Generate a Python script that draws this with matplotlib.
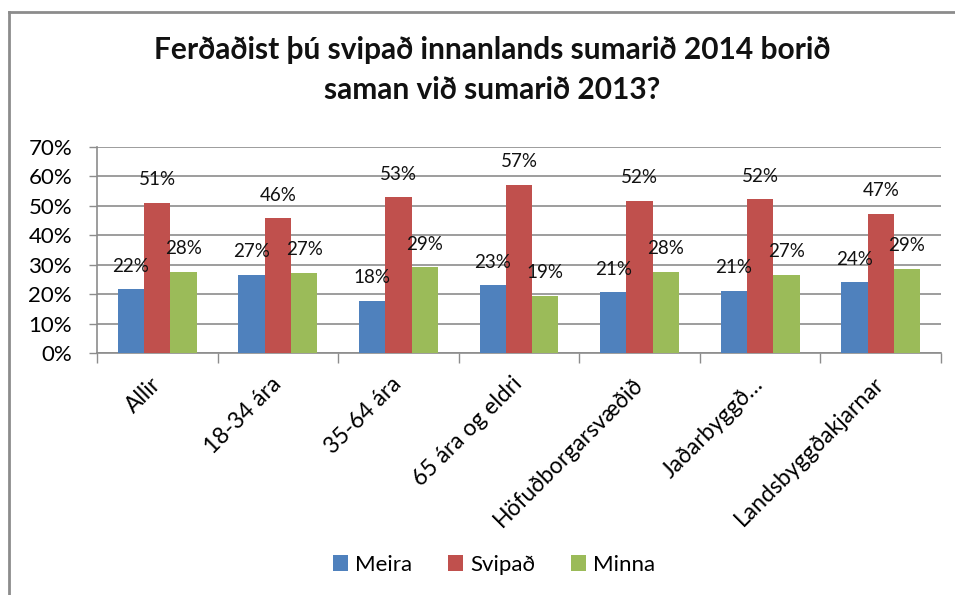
import numpy as np
import matplotlib.pyplot as plt
from matplotlib.lines import Line2D

plt.rcParams['font.family'] = ['Lato', 'DejaVu Sans']

categories = ['Allir', '18-34 ára', '35-64 ára', '65 ára og eldri',
              'Höfuðborgarsvæðið', 'Jaðarbyggð…', 'Landsbyggðakjarnar']
series = ['Meira', 'Svipað', 'Minna']
meira = [21.6, 26.6, 17.8, 23.1, 20.6, 21.1, 24.0]
svipad = [51.0, 45.8, 53.0, 57.1, 51.8, 52.2, 47.4]
minna = [27.6, 27.3, 29.1, 19.4, 27.6, 26.6, 28.7]
colors = ['#4F81BD', '#C0504D', '#9BBB59']
yticks = [0, 10, 20, 30, 40, 50, 60, 70]

fig = plt.figure(figsize=(9.55, 5.95), dpi=100)
ax = fig.add_axes([97 / 955, 1 - 353 / 595, (941 - 97) / 955, (353 - 147) / 595])

x = np.arange(len(categories))
w = 0.218
for i, (vals, c) in enumerate(zip([meira, svipad, minna], colors)):
    pos = x + (i - 1) * w
    ax.bar(pos, vals, w, color=c, label=series[i], zorder=3)
    for px, v in zip(pos, vals):
        ax.annotate('%d%%' % round(v), (px, v), xytext=(0, 23), textcoords='offset pixels',
                    ha='center', va='center', fontsize=13.5, color='#111111', zorder=4)

ax.set_xlim(-0.5, len(categories) - 0.5)
ax.set_ylim(0, 70)
ax.set_yticks(yticks)
ax.set_yticklabels(['%d%%' % t for t in yticks], fontsize=16)
ax.yaxis.grid(True, color='#8c8c8c', linewidth=1.2, zorder=0)
ax.tick_params(axis='y', length=6, width=1, color='#8c8c8c', pad=12)

ax.set_xticks(x)
ax.set_xticklabels(categories, rotation=45, ha='right', va='center',
                   rotation_mode='anchor', fontsize=16.5)
ax.tick_params(axis='x', length=0, pad=20)
ax.set_xticks(np.arange(len(categories) + 1) - 0.5, minor=True)
ax.tick_params(axis='x', which='minor', length=7, width=1, color='#8c8c8c')

for s in ['top', 'right']:
    ax.spines[s].set_visible(False)
for s in ['left', 'bottom']:
    ax.spines[s].set_color('#8c8c8c')
    ax.spines[s].set_linewidth(1.2)

fig.text(492 / 955, 1 - 50 / 595, 'Ferðaðist þú svipað innanlands sumarið 2014 borið',
         ha='center', va='center', fontsize=21.5, fontweight='bold', color='#111111')
fig.text(492 / 955, 1 - 90 / 595, 'saman við sumarið 2013?',
         ha='center', va='center', fontsize=21.5, fontweight='bold', color='#111111')

fig.legend(loc='center', bbox_to_anchor=(494 / 955, 1 - 565 / 595), ncol=3, frameon=False,
           fontsize=16, handlelength=0.7, handleheight=0.7, handletextpad=0.3, columnspacing=1.6)

# outer chart frame
fig.add_artist(Line2D([9 / 955, 9 / 955], [0, 1 - 12 / 595], color='#8c8c8c', lw=2))
fig.add_artist(Line2D([9 / 955, 1], [1 - 12 / 595, 1 - 12 / 595], color='#8c8c8c', lw=2))

fig.savefig('out.png', dpi=100)
